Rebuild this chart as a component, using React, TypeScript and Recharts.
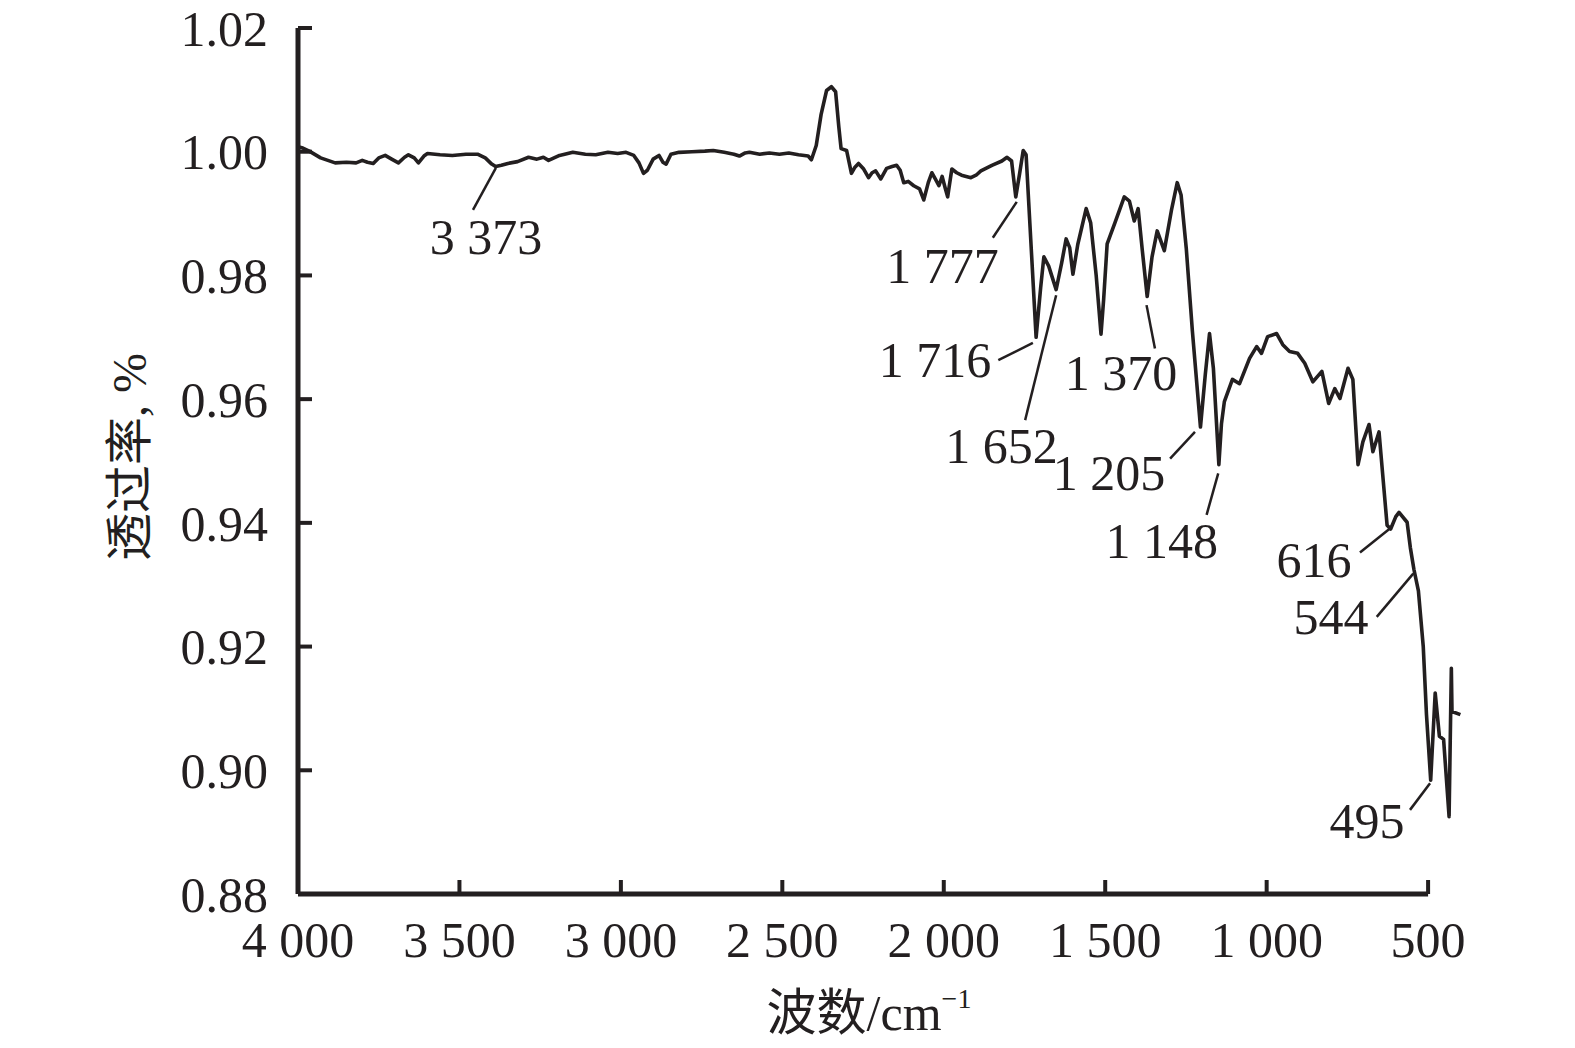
import React from 'react';
import { ComposedChart, Line, Scatter, XAxis, YAxis, ReferenceLine } from 'recharts';

// Spectrum (wavenumber in cm^-1, transmittance)
const wavenumbers = [
  4000, 3985, 3965, 3930, 3885, 3850, 3820, 3801, 3785, 3767, 3750, 3730, 3710, 3689, 3670, 3658, 3640, 3627, 3610, 3599,
  3560, 3522, 3480, 3444, 3420, 3400, 3388, 3370, 3350, 3320, 3286, 3260, 3240, 3224, 3190, 3149, 3110, 3078, 3040, 3010,
  2984, 2960, 2944, 2930, 2918, 2900, 2882, 2870, 2860, 2845, 2820, 2780, 2740, 2714, 2680, 2650, 2633, 2615, 2602, 2570,
  2540, 2509, 2480, 2450, 2420, 2410, 2395, 2380, 2363, 2348, 2335, 2325, 2318, 2301, 2286, 2275, 2264, 2248, 2233, 2222,
  2211, 2195, 2177, 2160, 2146, 2135, 2124, 2110, 2093, 2075, 2062, 2048, 2037, 2025, 2015, 2005, 1995, 1988, 1975, 1960,
  1945, 1916, 1900, 1885, 1851, 1820, 1804, 1790, 1777, 1765, 1754, 1745, 1714, 1700, 1690, 1675, 1652, 1635, 1621, 1610,
  1600, 1585, 1559, 1545, 1528, 1513, 1505, 1494, 1470, 1441, 1425, 1410, 1398, 1385, 1370, 1355, 1339, 1317, 1295, 1277,
  1265, 1249, 1230, 1205, 1190, 1177, 1165, 1148, 1140, 1131, 1106, 1084, 1053, 1031, 1016, 997, 969, 950, 929, 904,
  882, 857, 829, 808, 789, 773, 748, 733, 717, 702, 683, 671, 652, 627, 616, 600, 590, 565, 555, 544,
  530, 515, 505, 492, 478, 465, 452, 435, 428, 426, 400,
];
const transmittance = [
  1.0008, 1.0006, 1.0001, 0.999, 0.9982, 0.9983, 0.9982, 0.9986, 0.9983, 0.9981, 0.999, 0.9994, 0.9988, 0.9982, 0.9991, 0.9995, 0.999, 0.9982, 0.9993, 0.9997,
  0.9995, 0.9994, 0.9996, 0.9996, 0.999, 0.998, 0.9976, 0.9978, 0.9981, 0.9984, 0.9991, 0.9988, 0.9991, 0.9986, 0.9994, 0.9999, 0.9996, 0.9995, 0.9999, 0.9997,
  0.9999, 0.9994, 0.9982, 0.9965, 0.997, 0.9988, 0.9994, 0.9983, 0.998, 0.9996, 0.9999, 1.0, 1.0001, 1.0002, 0.9999, 0.9996, 0.9993, 0.9998, 0.9999, 0.9996,
  0.9998, 0.9996, 0.9998, 0.9995, 0.9993, 0.9987, 1.001, 1.006, 1.0099, 1.0105, 1.0097, 1.004, 1.0005, 1.0002, 0.9965, 0.9975, 0.9981, 0.9972, 0.9958, 0.9966,
  0.9969, 0.9956, 0.9973, 0.9976, 0.9978, 0.997, 0.995, 0.9952, 0.9945, 0.994, 0.9922, 0.995, 0.9966, 0.9955, 0.9945, 0.996, 0.994, 0.9927, 0.9972, 0.9966,
  0.9962, 0.9958, 0.9962, 0.9969, 0.9978, 0.9985, 0.9991, 0.9985, 0.9927, 0.9965, 1.0002, 0.9995, 0.97, 0.978, 0.983, 0.9815, 0.9777, 0.982, 0.9859, 0.9845,
  0.9802, 0.985, 0.9908, 0.9885, 0.98, 0.9705, 0.976, 0.9851, 0.9885, 0.9927, 0.992, 0.9888, 0.9908, 0.984, 0.9766, 0.983, 0.9872, 0.984, 0.9905, 0.995,
  0.993, 0.9844, 0.971, 0.9555, 0.964, 0.9706, 0.965, 0.9494, 0.956, 0.9596, 0.9632, 0.9625, 0.9666, 0.9685, 0.9674, 0.9701, 0.9706, 0.9688, 0.9677, 0.9674,
  0.9658, 0.9628, 0.9645, 0.9593, 0.9617, 0.9601, 0.965, 0.9632, 0.9494, 0.9531, 0.9559, 0.9515, 0.9547, 0.9396, 0.939, 0.941, 0.9417, 0.9401, 0.936, 0.9325,
  0.929, 0.92, 0.909, 0.8984, 0.9125, 0.9055, 0.905, 0.8925, 0.9165, 0.9095, 0.909,
];

const xTicks = [4000, 3500, 3000, 2500, 2000, 1500, 1000, 500];
const xTickLabels = ['4 000', '3 500', '3 000', '2 500', '2 000', '1 500', '1 000', '500'];
const yTicks = [0.88, 0.9, 0.92, 0.94, 0.96, 0.98, 1.0, 1.02];
const yTickLabels = ['0.88', '0.90', '0.92', '0.94', '0.96', '0.98', '1.00', '1.02'];

// Peak annotations (label text, text anchor point in data units, leader line in data units)
const peakLabels = ['3 373', '1 777', '1 716', '1 652', '1 370', '1 205', '1 148', '616', '544', '495'];
const peakLabelX = [3418, 2004, 2027, 1821, 1451, 1488, 1325, 853, 801, 689];
const peakLabelY = [0.9835, 0.9788, 0.9636, 0.9497, 0.9615, 0.9453, 0.9343, 0.9313, 0.922, 0.8891];
const leaderX1 = [3387, 1774, 1831, 1748, 1372, 1299, 1186, 711, 659, 556];
const leaderY1 = [0.9974, 0.9919, 0.9663, 0.9566, 0.9752, 0.9504, 0.9413, 0.9352, 0.9248, 0.8936];
const leaderX2 = [3458, 1848, 1724, 1652, 1346, 1222, 1150, 618, 546, 494];
const leaderY2 = [0.9906, 0.9861, 0.9691, 0.9768, 0.9682, 0.9547, 0.948, 0.9391, 0.9318, 0.8979];

const spectrum = wavenumbers.map((x, i) => ({ x, y: transmittance[i] }));
const annotations = peakLabels.map((text, i) => ({ x: peakLabelX[i], y: peakLabelY[i], text }));

const INK = '#231f20';
const SERIF = '"Liberation Serif", "Times New Roman", "Noto Sans CJK SC", serif';

const AnnotationShape = (props: any) => {
  const { cx, cy, payload } = props;
  if (cx == null || cy == null) return null;
  return (
    <text x={cx} y={cy} textAnchor="middle" fontSize={50} fontFamily={SERIF} fill={INK}>
      {payload.text}
    </text>
  );
};

const XTitle = (props: any) => {
  const vb = props.viewBox || { x: 298, y: 894, width: 1164, height: 154 };
  const cx = vb.x + vb.width / 2 - 11;
  const by = vb.y + 136;
  return (
    <text x={cx} y={by} textAnchor="middle" fontSize={50} fontFamily={SERIF} fill={INK}>
      波数/cm
      <tspan dy={-22} fontSize={28}>−1</tspan>
    </text>
  );
};

const YTitle = (props: any) => {
  const vb = props.viewBox || { x: 0, y: 28, width: 298, height: 866 };
  const cx = vb.x + 129;
  const cy = vb.y + vb.height / 2 - 4;
  return (
    <text
      x={cx}
      y={cy}
      textAnchor="middle"
      dominantBaseline="central"
      transform={`rotate(-90, ${cx}, ${cy})`}
      fontSize={48}
      fontFamily={SERIF}
      fill={INK}
    >
      透过率, %
    </text>
  );
};

export default function App() {
  return (
    <div style={{ position: 'absolute', left: 0, top: 0, width: 1575, height: 1048, background: '#fff' }}>
      <ComposedChart
        width={1575}
        height={1048}
        data={spectrum}
        margin={{ top: 28, right: 113, bottom: 0, left: 0 }}
      >
        <XAxis
          dataKey="x"
          type="number"
          domain={[395, 4000]}
          reversed
          ticks={xTicks}
          interval={0}
          tickFormatter={(v: number) => xTickLabels[xTicks.indexOf(v)] ?? String(v)}
          axisLine={false}
          tickLine={{ stroke: INK, strokeWidth: 4 }}
          tickSize={-14}
          tickMargin={41}
          height={154}
          tick={{ fill: INK, fontSize: 50, fontFamily: SERIF }}
          label={XTitle}
        />
        <YAxis
          type="number"
          domain={[0.88, 1.02]}
          ticks={yTicks}
          interval={0}
          tickFormatter={(v: number) => yTickLabels[yTicks.findIndex((t) => Math.abs(t - v) < 1e-9)] ?? String(v)}
          axisLine={{ stroke: INK, strokeWidth: 5 }}
          tickLine={{ stroke: INK, strokeWidth: 4 }}
          tickSize={-14}
          tickMargin={44}
          width={298}
          tick={{ fill: INK, fontSize: 50, fontFamily: SERIF }}
          label={YTitle}
        />
        <ReferenceLine
          segment={[{ x: 4000, y: 0.88 }, { x: 500, y: 0.88 }]}
          stroke={INK}
          strokeWidth={5}
          ifOverflow="visible"
        />
        {peakLabels.map((_, i) => (
          <ReferenceLine
            key={`leader-${i}`}
            segment={[{ x: leaderX1[i], y: leaderY1[i] }, { x: leaderX2[i], y: leaderY2[i] }]}
            stroke={INK}
            strokeWidth={2.5}
            ifOverflow="visible"
          />
        ))}
        <Line
          type="linear"
          dataKey="y"
          stroke={INK}
          strokeWidth={3.6}
          dot={false}
          isAnimationActive={false}
          strokeLinejoin="round"
        />
        <Scatter
          data={annotations}
          dataKey="y"
          shape={AnnotationShape}
          isAnimationActive={false}
        />
      </ComposedChart>
    </div>
  );
}
